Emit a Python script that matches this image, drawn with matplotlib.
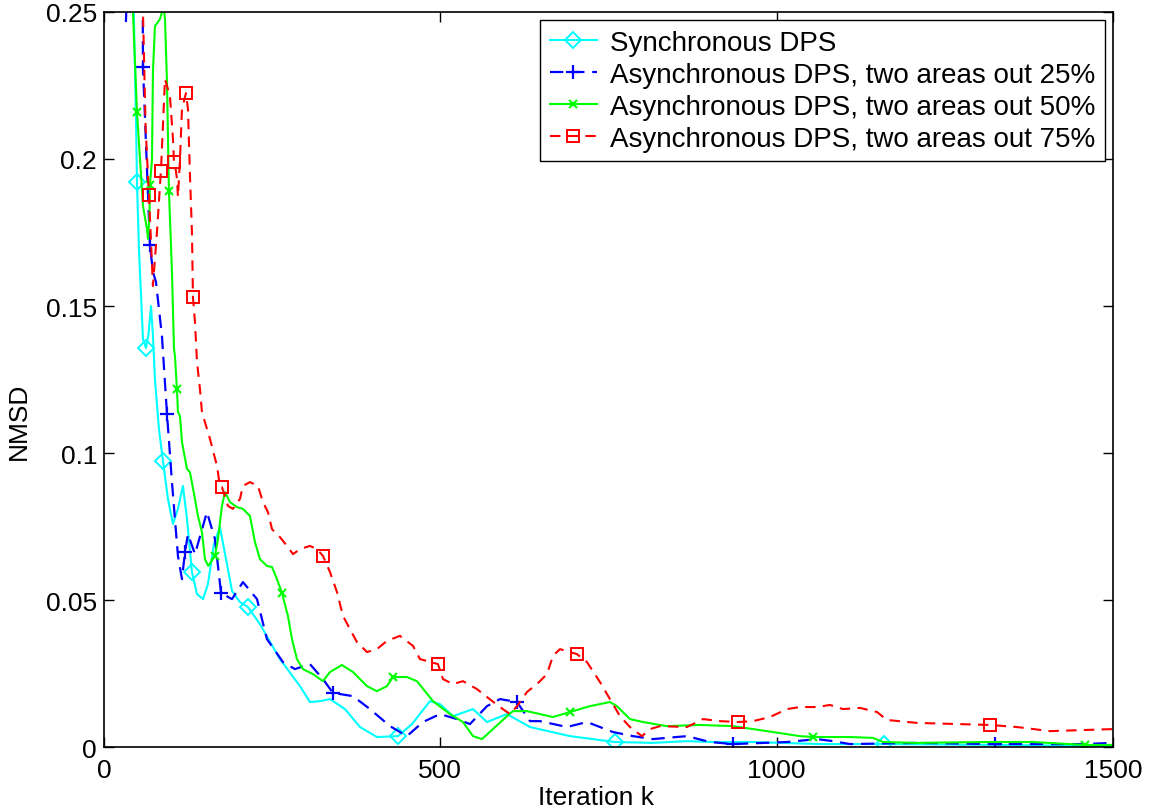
import matplotlib
matplotlib.use('Agg')
import matplotlib.pyplot as plt

plt.rcParams['font.family'] = ['Liberation Sans', 'DejaVu Sans']

# Synchronous DPS
sync_x = [40, 47.6, 49.1, 52.0, 58.0, 62.4, 66.0, 69.9, 72.8, 75.8, 81.8, 87.7, 95.1,
          102.6, 110.0, 117.4, 123.4, 130.8, 138.3, 147.2, 154.6, 163.5, 172.4, 181.4,
          190.3, 202.2, 214.1, 231.9, 261.6, 291.4, 306.2, 321.1, 336.0, 358.3, 380.6,
          405.8, 437.1, 457.9, 484.6, 499.5, 518.8, 548.6, 569.4, 599.1, 633.3, 692.8,
          759.7, 816.2, 866.7, 905.4, 964.8, 1064.4, 1159.6, 1332.0, 1500]
sync_y = [0.30, 0.2136, 0.1922, 0.1694, 0.1388, 0.1357, 0.140, 0.150, 0.140, 0.125,
          0.108, 0.0973, 0.0844, 0.0759, 0.081, 0.0888, 0.0776, 0.0595, 0.052, 0.0503,
          0.0554, 0.069, 0.0748, 0.064, 0.0531, 0.0493, 0.0476, 0.0418, 0.0299, 0.0207,
          0.0153, 0.0156, 0.0163, 0.0129, 0.0068, 0.0034, 0.0037, 0.0078, 0.0156, 0.0146,
          0.0105, 0.0129, 0.0085, 0.0112, 0.0068, 0.0037, 0.0017, 0.0014, 0.0020, 0.0017,
          0.0017, 0.0010, 0.0010, 0.0007, 0.0003]
sync_marks = [49.1, 62.4, 87.7, 130.8, 214.1, 437.1, 759.7, 1159.6]

# Asynchronous 25%
a25_x = [28, 32.7, 36, 40, 52, 57.5, 58.0, 68.4, 72.8, 77.3, 86.2, 93.7, 101.1, 105.5,
         110.0, 116.0, 120.4, 124.9, 135.3, 153.1, 165.0, 174.0, 190.3, 206.6, 227.5,
         242.3, 266.1, 283.9, 306.2, 325.6, 340.4, 370.2, 395.4, 425.2, 450.4, 474.2,
         499.5, 524.8, 544.1, 569.4, 588.7, 614.0, 633.3, 648.2, 688.3, 718.0, 756.7,
         786.4, 816.2, 866.7, 900.9, 935.1, 1015.4, 1060.0, 1083.7, 1109.0, 1208.6,
         1324.6, 1455.4, 1500]
a25_y = [0.27, 0.2469, 0.27, 0.32, 0.33, 0.26, 0.2313, 0.1707, 0.1616, 0.1582, 0.1398,
         0.1133, 0.0901, 0.0776, 0.065, 0.0571, 0.0663, 0.0724, 0.0656, 0.0799, 0.0707,
         0.0524, 0.0503, 0.0561, 0.0503, 0.0367, 0.0289, 0.0265, 0.0282, 0.0231, 0.0184,
         0.0173, 0.0129, 0.0071, 0.0037, 0.0085, 0.0112, 0.0095, 0.0078, 0.0139, 0.0163,
         0.0153, 0.0088, 0.0088, 0.0068, 0.0085, 0.0051, 0.0037, 0.0027, 0.0037, 0.0017,
         0.0010, 0.0017, 0.0027, 0.0020, 0.0010, 0.0014, 0.0010, 0.0010, 0.0014]
a25_marks = [58.0, 68.4, 93.7, 120.4, 174.0, 340.4, 614.0, 935.1, 1324.6]

# Asynchronous 50%
a50_x = [40.5, 43.1, 49.1, 58.0, 63.9, 65.4, 67.5, 68.4, 71.4, 72.8, 75.8, 83.3, 88.5,
         90.7, 93.7, 96.6, 101.1, 104.1, 105.5, 108.5, 110.0, 113.0, 114.5, 116.0, 123.4,
         127.8, 135.3, 139.7, 145.7, 150.1, 155.0, 162.0, 165.0, 169.5, 175.4, 179.9,
         187.3, 197.7, 206.6, 217.0, 224.5, 231.9, 242.3, 249.8, 257.2, 264.6, 273.5,
         279.5, 286.9, 295.8, 310.7, 325.6, 336.0, 353.8, 370.2, 391.0, 405.8, 420.7,
         429.6, 450.4, 465.3, 489.1, 514.4, 533.7, 548.6, 561.9, 578.3, 599.1, 608.0,
         628.8, 667.5, 692.8, 722.5, 752.2, 762.6, 782.0, 801.3, 837.0, 886.0, 935.1,
         985.6, 1034.7, 1054.0, 1109.0, 1143.2, 1158.1, 1208.6, 1306.7, 1381.1, 1458.4,
         1500]
a50_y = [0.27, 0.25, 0.216, 0.1840, 0.1762, 0.1728, 0.180, 0.1912, 0.200, 0.2296, 0.2452,
         0.2476, 0.252, 0.2476, 0.2262, 0.1891, 0.1616, 0.1354, 0.1330, 0.1218, 0.1139,
         0.1126, 0.1082, 0.1037, 0.0946, 0.0935, 0.0844, 0.0786, 0.0731, 0.0639, 0.0616,
         0.0639, 0.0650, 0.0707, 0.0820, 0.0867, 0.0833, 0.0816, 0.0810, 0.0786, 0.0697,
         0.0639, 0.0616, 0.0612, 0.0571, 0.0524, 0.0446, 0.0367, 0.0299, 0.0265, 0.0248,
         0.0224, 0.0255, 0.0279, 0.0255, 0.0207, 0.0190, 0.0207, 0.0238, 0.0238, 0.0224,
         0.0156, 0.0112, 0.0085, 0.0037, 0.0027, 0.0061, 0.0105, 0.0122, 0.0122, 0.0102,
         0.0119, 0.0139, 0.0153, 0.0139, 0.0095, 0.0085, 0.0071, 0.0075, 0.0071, 0.0054,
         0.0037, 0.0034, 0.0034, 0.0031, 0.0017, 0.0014, 0.0017, 0.0017, 0.0007, 0.0007]
a50_marks = [49.1, 68.4, 96.6, 108.5, 165.0, 264.6, 429.6, 692.8, 1054.0, 1458.4]

# Asynchronous 75%
a75_x = [56, 58.0, 62.0, 66.9, 72.8, 78.8, 84.7, 90.7, 98.1, 102.6, 104.1, 107.0, 108.5,
         110.0, 113.0, 116.0, 121.9, 124.9, 127.8, 130.8, 132.3, 135.3, 138.3, 142.7,
         145.7, 153.1, 157.6, 168.0, 172.4, 175.4, 184.3, 191.8, 202.2, 206.6, 217.0,
         228.9, 236.4, 243.8, 249.8, 261.6, 272.1, 281.0, 291.4, 306.2, 316.7, 325.6,
         336.0, 346.4, 355.3, 365.7, 376.1, 391.0, 405.8, 420.7, 440.0, 459.4, 469.8,
         496.5, 504.0, 518.8, 533.7, 554.5, 569.4, 588.7, 603.6, 614.0, 628.8, 643.7,
         658.6, 667.5, 677.9, 703.2, 718.0, 737.4, 752.2, 767.1, 782.0, 799.8, 811.7,
         826.6, 866.7, 890.5, 915.8, 942.5, 964.8, 990.1, 1015.4, 1034.7, 1060.0, 1079.3,
         1098.6, 1123.9, 1149.2, 1164.0, 1208.6, 1317.1, 1357.3, 1406.3, 1500]
a75_y = [0.30, 0.25, 0.21, 0.1878, 0.1568, 0.1752, 0.1959, 0.2272, 0.2214, 0.2068, 0.1990,
         0.1959, 0.1932, 0.1871, 0.2000, 0.2170, 0.2224, 0.2170, 0.1946, 0.1752, 0.1531,
         0.1446, 0.1310, 0.1218, 0.1139, 0.1082, 0.1048, 0.0956, 0.0888, 0.0884, 0.0820,
         0.0810, 0.0844, 0.0888, 0.0901, 0.0888, 0.0833, 0.0799, 0.0741, 0.0714, 0.0684,
         0.0656, 0.0673, 0.0684, 0.0673, 0.0650, 0.0595, 0.0527, 0.0446, 0.0401, 0.0357,
         0.0323, 0.0333, 0.0361, 0.0378, 0.0344, 0.0299, 0.0282, 0.0231, 0.0214, 0.0224,
         0.0197, 0.0170, 0.0136, 0.0112, 0.0139, 0.0187, 0.0214, 0.0248, 0.0310, 0.0333,
         0.0316, 0.0289, 0.0221, 0.0163, 0.0105, 0.0068, 0.0037, 0.0061, 0.0071, 0.0068,
         0.0095, 0.0088, 0.0085, 0.0088, 0.0102, 0.0129, 0.0136, 0.0136, 0.0143, 0.0129,
         0.0133, 0.0119, 0.0092, 0.0082, 0.0075, 0.0068, 0.0054, 0.0061]
a75_marks = [66.9, 84.7, 104.1, 121.9, 132.3, 175.4, 325.6, 496.5, 703.2, 942.5, 1317.1]

labels = ['Synchronous DPS',
          'Asynchronous DPS, two areas out 25%',
          'Asynchronous DPS, two areas out 50%',
          'Asynchronous DPS, two areas out 75%']


def mark_idx(xs, marks):
    return [xs.index(m) for m in marks]


fig = plt.figure(figsize=(11.5, 8.12), dpi=100)
ax = fig.add_axes([0.0904, 0.0788, 0.8774, 0.9052])

ax.plot(sync_x, sync_y, color='#00ffff', linestyle='-', linewidth=1.5,
        marker='D', markersize=8.5, markerfacecolor='none', markeredgewidth=1.4,
        markevery=mark_idx(sync_x, sync_marks), label=labels[0])
ax.plot(a25_x, a25_y, color='#0000ff', linestyle=(0, (6, 3.5)), linewidth=1.6,
        marker='+', markersize=10, markeredgewidth=1.6,
        markevery=mark_idx(a25_x, a25_marks), label=labels[1])
ax.plot(a50_x, a50_y, color='#00ff00', linestyle='-', linewidth=1.5,
        marker='x', markersize=6, markeredgewidth=1.5,
        markevery=mark_idx(a50_x, a50_marks), label=labels[2])
ax.plot(a75_x, a75_y, color='#ff0000', linestyle=(0, (5, 3.5)), linewidth=1.5,
        marker='s', markersize=8.5, markerfacecolor='none', markeredgewidth=1.4,
        markevery=mark_idx(a75_x, a75_marks), label=labels[3])

ax.set_xlim(0, 1500)
ax.set_ylim(0, 0.25)
ax.set_xticks([0, 500, 1000, 1500])
ax.set_yticks([0, 0.05, 0.1, 0.15, 0.2, 0.25])
ax.set_yticklabels(['0', '0.05', '0.1', '0.15', '0.2', '0.25'])
ax.tick_params(direction='in', top=True, right=True, length=7, width=1,
               labelsize=19)
ax.tick_params(axis='y', pad=5)
ax.tick_params(axis='x', pad=8)
for s in ax.spines.values():
    s.set_linewidth(1.2)

ax.set_xlabel('Iteration k', fontsize=19)
ax.set_ylabel('NMSD', fontsize=19)
ax.xaxis.set_label_coords(0.488, -0.051)
ax.yaxis.set_label_coords(-0.072, 0.444)

leg = ax.legend(loc='upper right', fontsize=20, frameon=True, fancybox=False,
                edgecolor='black', framealpha=1, handlelength=1.7,
                handletextpad=0.45, borderpad=0.35, labelspacing=0.21,
                borderaxespad=0.3)
leg.get_frame().set_linewidth(1.0)

fig.savefig('out.png', dpi=100)
